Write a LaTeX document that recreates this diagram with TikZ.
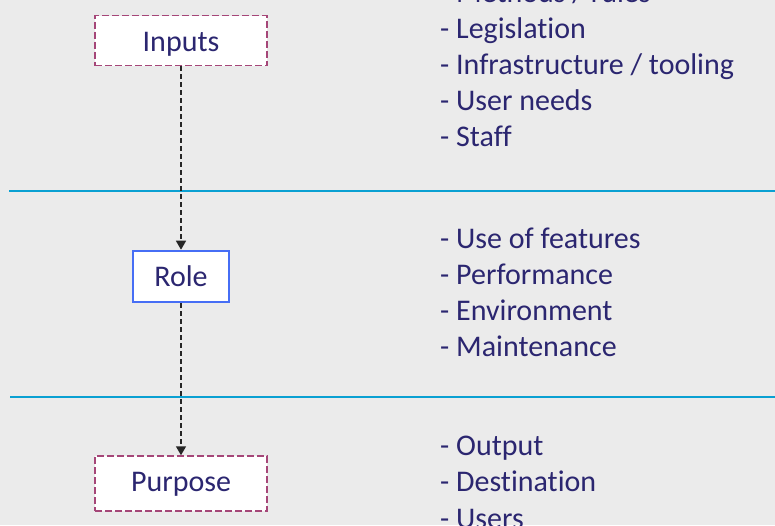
\documentclass[tikz,border=0pt]{standalone}
\usepackage{fontspec}
\setmainfont{Carlito}[Ligatures={NoCommon}]
\usetikzlibrary{arrows.meta}
\definecolor{bg}{RGB}{235,235,235}
\definecolor{txt}{RGB}{43,38,112}
\definecolor{dashbox}{RGB}{165,70,120}
\definecolor{rolebox}{RGB}{70,110,245}
\definecolor{sep}{RGB}{10,160,210}
\tikzset{
  item/.style={anchor=base west, inner sep=0pt, text=txt, font=\fontsize{30}{36}\selectfont},
  dbox/.style={draw=dashbox, fill=white, line width=1.5pt, dash pattern=on 7pt off 3pt,
     inner sep=0pt, text=txt, font=\fontsize{30}{36}\selectfont, text depth=0pt},
  rbox/.style={draw=rolebox, fill=white, line width=2.6pt,
     inner sep=0pt, text=txt, font=\fontsize{30}{36}\selectfont, text depth=0pt},
  flow/.style={draw=black!85, line width=1.5pt, dash pattern=on 5pt off 3pt,
     -{Triangle[length=9pt,width=10pt]}},
  sepline/.style={draw=sep, line width=2.2pt}
}
\begin{document}
\begin{tikzpicture}[x=1pt,y=-1pt]
\clip (0,0) rectangle (775,525);
\fill[bg] (0,0) rectangle (775,525);
\useasboundingbox (0,0) rectangle (775,525);

\coordinate (s1a) at (9,191);
\coordinate (s1b) at (775,191);
\coordinate (s2a) at (10,397);
\coordinate (s2b) at (775,397);
\draw[sepline] (s1a) -- (s1b);
\draw[sepline] (s2a) -- (s2b);

\node[dbox, minimum width=172pt, minimum height=50pt, text height=21pt] (inputs) at (181,40.5) {Inputs};
\node[rbox, minimum width=96pt, minimum height=51pt, text height=19pt] (role) at (181,276.5) {Role};
\node[dbox, minimum width=172pt, minimum height=55pt, text height=16pt] (purpose) at (181,483.5) {Purpose};

\draw[flow] (inputs.south) -- (role.north);
\draw[flow] (role.south) -- (purpose.north);

\node[item] (i1) at (440,2) {- Methods / rules};
\node[item] (i2) at (440,38) {- Legislation};
\node[item] (i3) at (440,74) {- Infrastructure / tooling};
\node[item] (i4) at (440,110) {- User needs};
\node[item] (i5) at (440,146) {- Staff};

\node[item] (r1) at (440,248) {- Use of features};
\node[item] (r2) at (440,284) {- Performance};
\node[item] (r3) at (440,320) {- Environment};
\node[item] (r4) at (440,356) {- Maintenance};

\node[item] (p1) at (440,455) {- Output};
\node[item] (p2) at (440,491) {- Destination};
\node[item] (p3) at (440,528) {- Users};
\end{tikzpicture}
\end{document}
